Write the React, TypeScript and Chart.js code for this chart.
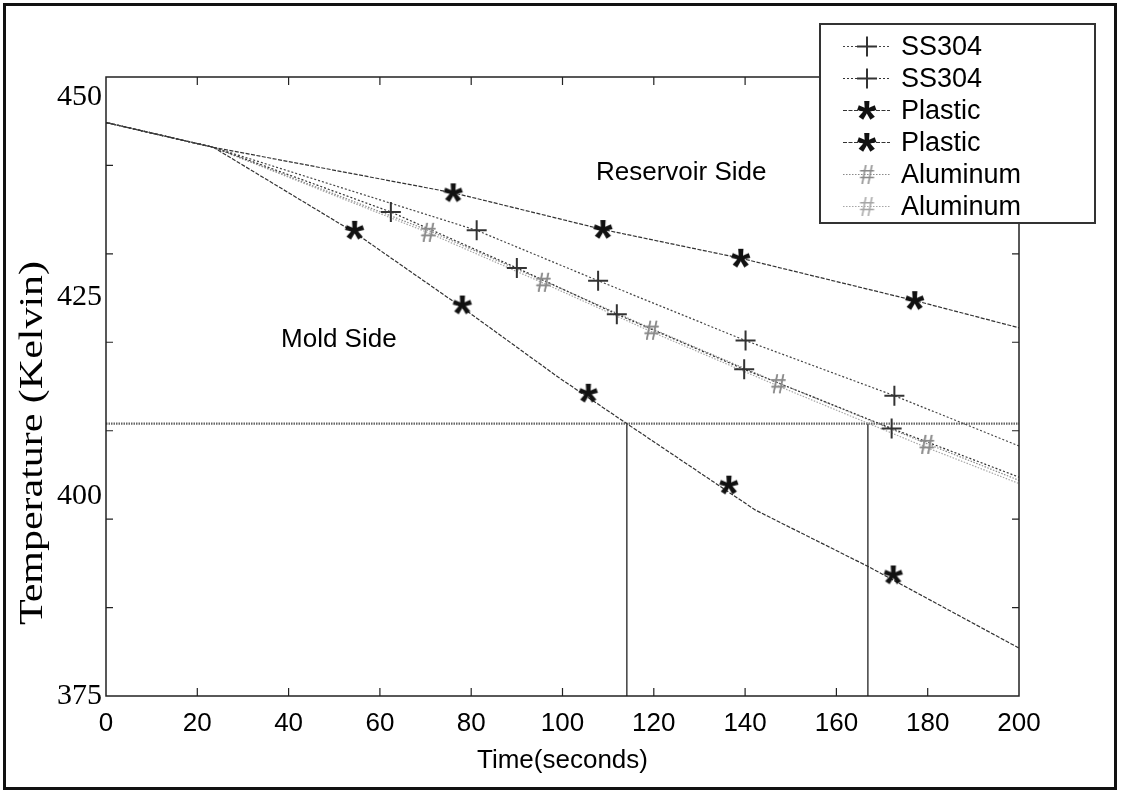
import React, { useEffect, useRef } from "react";
import { Chart, registerables } from "chart.js";

Chart.register(...registerables);

// ---------- data ----------
const seriesNames = ["SS304", "SS304", "Plastic", "Plastic", "Aluminum", "Aluminum"];
const xTitle = "Time(seconds)";
const yTitle = "Temperature (Kelvin)";
const reservoirLabel = "Reservoir Side";
const moldLabel = "Mold Side";

const yTickLabels = [375, 400, 425, 450];
const yTickMarks = [386.07, 397.14, 408.21, 419.29, 430.36, 441.43];

// line traces: time (s) / temperature (K)
const ssResTime = [0, 23.5, 81.2, 107.8, 140.1, 172.7, 200];
const ssResTemp = [446.8, 443.7, 433.3, 427.0, 419.5, 412.6, 406.3];
const ssMoldTime = [0, 23.5, 62.4, 90.0, 111.9, 139.8, 172.1, 200];
const ssMoldTemp = [446.8, 443.7, 435.6, 428.6, 422.8, 415.9, 408.5, 402.4];
const plResTime = [0, 23.5, 76.1, 108.9, 139.1, 177.2, 200];
const plResTemp = [446.8, 443.7, 438.0, 433.4, 429.8, 424.5, 421.1];
const plMoldTime = [0, 23.5, 54.5, 78.1, 99.1, 114.1, 142.2, 167.0, 200];
const plMoldTemp = [446.8, 443.7, 433.0, 423.6, 414.9, 409.1, 398.3, 391.2, 381.0];
const alTime = [0, 23.5, 70.6, 95.8, 119.5, 147.3, 179.8, 200];
const alResTemp = [446.8, 443.7, 433.3, 427.0, 421.0, 414.2, 406.6, 402.0];
const alMoldTemp = [446.8, 443.7, 433.0, 426.7, 420.6, 413.8, 406.1, 401.6];

// marker positions
const ssResMarkTime = [81.2, 107.8, 140.1, 172.7];
const ssResMarkTemp = [433.3, 427.0, 419.5, 412.6];
const ssMoldMarkTime = [62.4, 90.0, 111.9, 139.8, 172.1];
const ssMoldMarkTemp = [435.6, 428.6, 422.8, 415.9, 408.5];
const plResMarkTime = [76.1, 108.9, 139.1, 177.2];
const plResMarkTemp = [438.0, 433.4, 429.8, 424.5];
const plMoldMarkTime = [54.5, 78.1, 105.7, 136.5, 172.5];
const plMoldMarkTemp = [433.3, 423.95, 412.9, 401.4, 390.15];
const alMarkTime = [70.6, 95.8, 119.5, 147.3, 179.8];
const alMarkTemp = [433.05, 426.8, 420.8, 414.1, 406.5];

// reference line and crossings
const thresholdTime = [0, 200];
const thresholdTemp = [409.1, 409.1];
const crossTimes = [114.1, 166.9];
const crossTemps = [409.1, 375];

// annotation anchors (data coordinates)
const reservoirAt = [126, 440.5];
const moldAt = [51, 419.6];

const pts = (xs: number[], ys: number[]) => xs.map((x, i) => ({ x, y: ys[i] }));

function makeGlyph(chr: string, family: string, weight: string, color: string, boxH: number) {
  const probe = document.createElement("canvas").getContext("2d")!;
  probe.font = `${weight} 100px ${family}`;
  const m = probe.measureText(chr);
  const gh = m.actualBoundingBoxAscent + m.actualBoundingBoxDescent || 40;
  const size = (100 * boxH) / gh;
  probe.font = `${weight} ${size}px ${family}`;
  const m2 = probe.measureText(chr);
  const w = m2.actualBoundingBoxLeft + m2.actualBoundingBoxRight;
  const h = m2.actualBoundingBoxAscent + m2.actualBoundingBoxDescent;
  const cw = Math.ceil(w) + 4;
  const chh = Math.ceil(h) + 4;
  const c = document.createElement("canvas");
  c.width = cw;
  c.height = chh;
  const g = c.getContext("2d")!;
  g.font = probe.font;
  g.fillStyle = color;
  g.textAlign = "left";
  g.textBaseline = "alphabetic";
  g.fillText(chr, (cw - w) / 2 + m2.actualBoundingBoxLeft, (chh - h) / 2 + m2.actualBoundingBoxAscent);
  return c;
}

export default function App() {
  const ref = useRef<HTMLCanvasElement | null>(null);

  useEffect(() => {
    document.body.style.margin = "0";
    const canvas = ref.current!;
    const star = makeGlyph("*", '"Liberation Sans", Arial, sans-serif', "bold", "#111", 19);
    const hash1 = makeGlyph("#", '"Liberation Serif", serif', "normal", "#8a8a8a", 20);
    const hash2 = makeGlyph("#", '"Liberation Serif", serif', "normal", "#a6a6a6", 20);

    const lineBase = { showLine: true, pointRadius: 0, borderWidth: 1.2, fill: false, tension: 0 };
    const lines: any[] = [
      { ...lineBase, data: pts(ssResTime, ssResTemp), borderColor: "#444", borderDash: [2, 2] },
      { ...lineBase, data: pts(ssMoldTime, ssMoldTemp), borderColor: "#333", borderDash: [2, 2] },
      { ...lineBase, data: pts(plResTime, plResTemp), borderColor: "#333", borderDash: [4, 1.5] },
      { ...lineBase, data: pts(plMoldTime, plMoldTemp), borderColor: "#333", borderDash: [4, 1.5] },
      { ...lineBase, data: pts(alTime, alResTemp), borderColor: "#8a8a8a", borderDash: [1.5, 1.5] },
      { ...lineBase, data: pts(alTime, alMoldTemp), borderColor: "#a6a6a6", borderDash: [1.5, 1.5] },
    ];
    const markBase = { showLine: false, pointRadius: 10, pointHoverRadius: 10 };
    const markers: any[] = [
      { ...markBase, data: pts(ssResMarkTime, ssResMarkTemp), pointStyle: "cross", pointBorderColor: "#333", pointBorderWidth: 2 },
      { ...markBase, data: pts(ssMoldMarkTime, ssMoldMarkTemp), pointStyle: "cross", pointBorderColor: "#333", pointBorderWidth: 2 },
      { ...markBase, data: pts(plResMarkTime, plResMarkTemp), pointStyle: star },
      { ...markBase, data: pts(plMoldMarkTime, plMoldMarkTemp), pointStyle: star },
      { ...markBase, data: pts(alMarkTime, alMarkTemp), pointStyle: hash1 },
      { ...markBase, data: pts(alMarkTime, alMarkTemp), pointStyle: hash2 },
    ];
    const refs: any[] = [
      { ...lineBase, data: pts(thresholdTime, thresholdTemp), borderColor: "#666", borderWidth: 2.2, borderDash: [1.5, 1] },
      { ...lineBase, data: pts([crossTimes[0], crossTimes[0]], crossTemps), borderColor: "#111", borderWidth: 1.2 },
      { ...lineBase, data: pts([crossTimes[1], crossTimes[1]], crossTemps), borderColor: "#111", borderWidth: 1.2 },
    ];

    const decor = {
      id: "decor",
      afterDraw(chart: any) {
        const { ctx, chartArea: a, scales } = chart;
        const xs = scales.x;
        const ys = scales.y;
        ctx.save();
        // axes box
        ctx.strokeStyle = "#222";
        ctx.lineWidth = 1.5;
        ctx.setLineDash([]);
        ctx.strokeRect(a.left, a.top, a.right - a.left, a.bottom - a.top);
        // inner ticks
        ctx.lineWidth = 1.2;
        ctx.beginPath();
        xs.ticks.forEach((t: any) => {
          if (t.value <= xs.min || t.value >= xs.max) return;
          const px = xs.getPixelForValue(t.value);
          ctx.moveTo(px, a.bottom);
          ctx.lineTo(px, a.bottom - 8);
          ctx.moveTo(px, a.top);
          ctx.lineTo(px, a.top + 8);
        });
        yTickMarks.forEach((v) => {
          const py = ys.getPixelForValue(v);
          ctx.moveTo(a.left, py);
          ctx.lineTo(a.left + 7, py);
          ctx.moveTo(a.right, py);
          ctx.lineTo(a.right - 7, py);
        });
        ctx.stroke();

        // annotations
        ctx.fillStyle = "#000";
        ctx.font = '26px "Liberation Sans", Arial, sans-serif';
        ctx.textAlign = "center";
        ctx.textBaseline = "middle";
        ctx.fillText(reservoirLabel, xs.getPixelForValue(reservoirAt[0]), ys.getPixelForValue(reservoirAt[1]));
        ctx.fillText(moldLabel, xs.getPixelForValue(moldAt[0]), ys.getPixelForValue(moldAt[1]));

        // y title
        ctx.save();
        ctx.translate(33, 443);
        ctx.rotate(-Math.PI / 2);
        ctx.font = '33px "Liberation Serif", serif';
        const tw = ctx.measureText(yTitle).width;
        ctx.scale(364 / tw, 1);
        ctx.fillText(yTitle, 0, 0);
        ctx.restore();

        // legend
        const lx = 820, ly = 24, lw = 275, lh = 199;
        ctx.fillStyle = "#fff";
        ctx.fillRect(lx, ly, lw, lh);
        ctx.strokeStyle = "#333";
        ctx.lineWidth = 2;
        ctx.strokeRect(lx, ly, lw, lh);
        seriesNames.forEach((name, i) => {
          const ry = 46.5 + i * 32;
          const ld = lines[i];
          const md = markers[i];
          ctx.save();
          ctx.strokeStyle = ld.borderColor;
          ctx.lineWidth = ld.borderWidth;
          ctx.setLineDash(ld.borderDash || []);
          ctx.beginPath();
          ctx.moveTo(843, ry);
          ctx.lineTo(890, ry);
          ctx.stroke();
          ctx.setLineDash([]);
          if (md.pointStyle === "cross") {
            ctx.strokeStyle = md.pointBorderColor;
            ctx.lineWidth = md.pointBorderWidth;
            ctx.beginPath();
            ctx.moveTo(867 - 10, ry);
            ctx.lineTo(867 + 10, ry);
            ctx.moveTo(867, ry - 10);
            ctx.lineTo(867, ry + 10);
            ctx.stroke();
          } else {
            const g = md.pointStyle as HTMLCanvasElement;
            ctx.drawImage(g, 867 - g.width / 2, ry - g.height / 2);
          }
          ctx.restore();
          ctx.fillStyle = "#000";
          ctx.font = '27px "Liberation Sans", Arial, sans-serif';
          ctx.textAlign = "left";
          ctx.textBaseline = "middle";
          ctx.fillText(name, 901, ry + 1);
        });

        // outer frame
        ctx.strokeStyle = "#111";
        ctx.lineWidth = 3;
        ctx.strokeRect(4.5, 4.5, 1111, 784);
        ctx.restore();
      },
    };

    const chart = new Chart(canvas, {
      type: "scatter",
      data: { datasets: [...markers, ...lines, ...refs] },
      options: {
        animation: false,
        responsive: false,
        devicePixelRatio: 1,
        events: [],
        layout: { padding: { left: 10, right: 103, top: 77, bottom: 18 } },
        plugins: { legend: { display: false }, tooltip: { enabled: false } },
        scales: {
          x: {
            type: "linear",
            min: 0,
            max: 200,
            afterFit: (s: any) => {
              s.height = 80;
            },
            ticks: {
              stepSize: 20,
              autoSkip: false,
              maxRotation: 0,
              padding: 12,
              color: "#000",
              font: { family: '"Liberation Sans", Arial, sans-serif', size: 26 },
            },
            grid: { display: false, drawTicks: false },
            border: { display: false },
            title: {
              display: true,
              text: xTitle,
              color: "#000",
              font: { family: '"Liberation Sans", Arial, sans-serif', size: 26 },
              padding: { top: 0, bottom: 0 },
            },
          },
          y: {
            type: "linear",
            min: 375,
            max: 452.5,
            afterFit: (s: any) => {
              s.width = 96;
            },
            afterBuildTicks: (s: any) => {
              s.ticks = yTickLabels.map((v) => ({ value: v }));
            },
            ticks: {
              padding: 4,
              color: "#000",
              font: { family: '"Liberation Serif", serif', size: 30 },
            },
            grid: { display: false, drawTicks: false },
            border: { display: false },
          },
        },
      },
      plugins: [decor],
    } as any);

    return () => chart.destroy();
  }, []);

  return (
    <div style={{ position: "absolute", left: 0, top: 0, width: 1122, height: 794, background: "#fff" }}>
      <canvas ref={ref} width={1122} height={794} style={{ display: "block" }} />
    </div>
  );
}
